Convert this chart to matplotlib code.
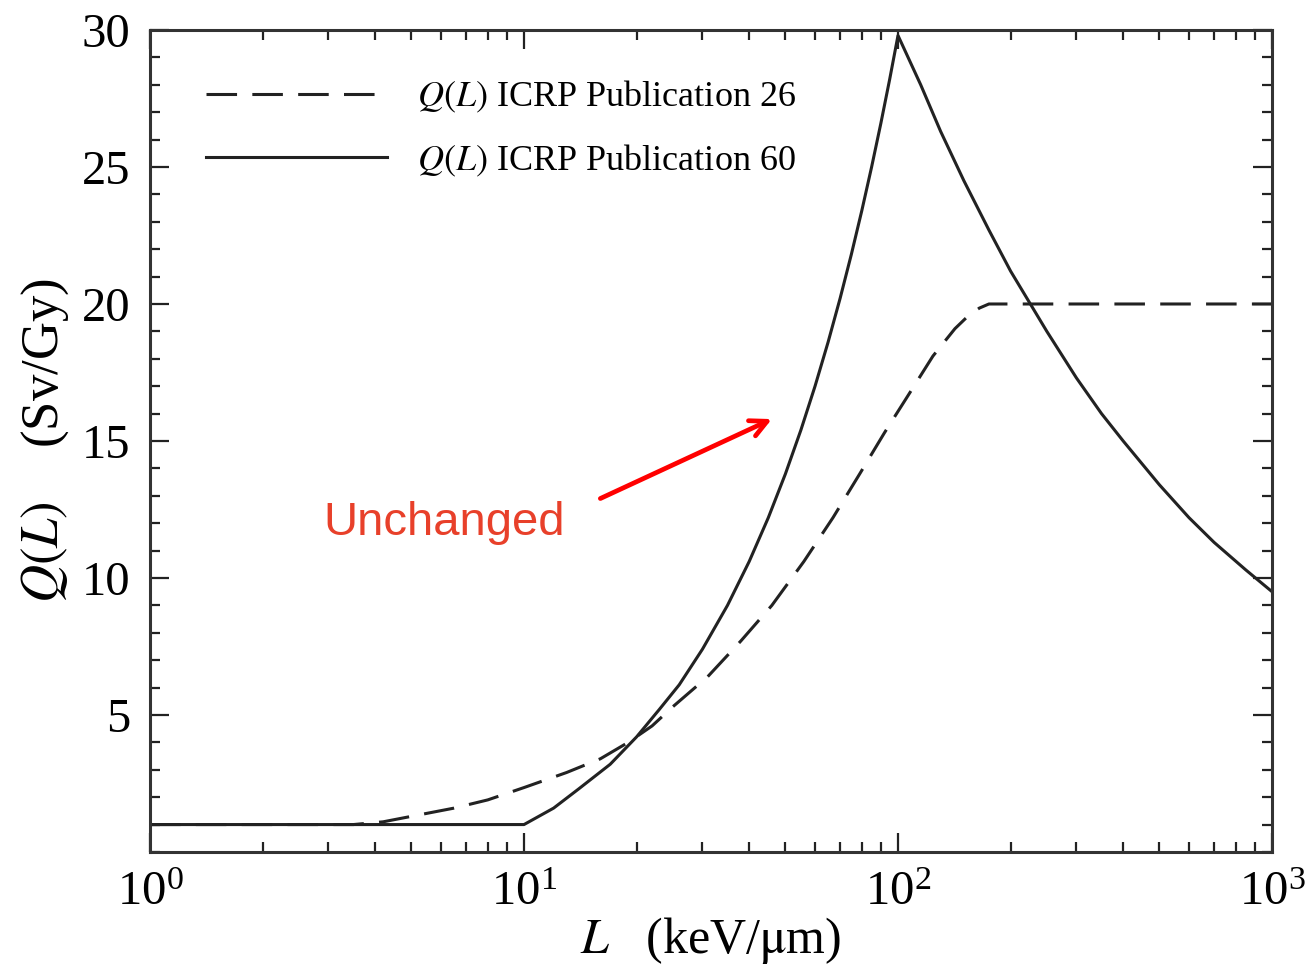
import matplotlib
matplotlib.use("Agg")
import matplotlib.pyplot as plt
from matplotlib.ticker import MultipleLocator, LogLocator, NullFormatter

plt.rcParams["font.family"] = ["Liberation Serif", "DejaVu Serif"]
plt.rcParams["mathtext.fontset"] = "stix"

# ICRP Publication 60 quality factor (solid)
L_icrp60 = [1, 10, 12, 14, 17, 20, 23, 26, 30, 35, 40, 45, 50, 55, 60, 65, 70,
            75, 80, 85, 90, 95, 100,
            115, 130, 150, 175, 200, 250, 300, 350, 400, 500, 600, 700, 850, 1000]
Q_icrp60 = [1.0, 1.0, 1.6, 2.3, 3.2, 4.2, 5.2, 6.1, 7.4, 9.0, 10.6, 12.2, 13.8, 15.4, 17.0, 18.6, 20.2,
            21.8, 23.4, 25.0, 26.6, 28.2, 29.8,
            28.0, 26.3, 24.5, 22.7, 21.2, 19.0, 17.3, 16.0, 15.0, 13.4, 12.2, 11.3, 10.3, 9.5]

# ICRP Publication 26 quality factor (dashed)
L_icrp26 = [1, 3.5, 4.2, 5, 6.5, 8, 10, 13, 16, 19, 22, 25, 31, 38, 46, 56, 67,
            79, 92, 108, 124, 142, 155, 165, 175, 1000]
Q_icrp26 = [1.0, 1.0, 1.1, 1.3, 1.6, 1.9, 2.35, 2.9, 3.4, 4.0, 4.6, 5.3, 6.4, 7.7, 9.0, 10.6, 12.2,
            13.8, 15.3, 16.8, 18.1, 19.1, 19.6, 19.85, 20.0, 20.0]

y_ticks = [5, 10, 15, 20, 25, 30]

fig = plt.figure(figsize=(13.1, 9.71), dpi=100)
ax = fig.add_axes([0.1145, 0.1226, 0.8565, 0.8465])

ax.plot(L_icrp26, Q_icrp26, color="#222222", lw=2.2, dashes=(10, 5),
        label=r"$Q(L)$ ICRP Publication 26")
ax.plot(L_icrp60, Q_icrp60, color="#222222", lw=2.2,
        label=r"$Q(L)$ ICRP Publication 60")

ax.set_xscale("log")
ax.set_xlim(1, 1000)
ax.set_ylim(0, 30)
ax.set_yticks(y_ticks)
ax.yaxis.set_minor_locator(MultipleLocator(1))
ax.xaxis.set_minor_locator(LogLocator(base=10, subs=range(2, 10)))
ax.xaxis.set_minor_formatter(NullFormatter())

for s in ax.spines.values():
    s.set_linewidth(2.2)
    s.set_color("#333333")
ax.tick_params(which="both", direction="in", top=True, right=True,
               width=1.6, color="#222222")
ax.tick_params(which="major", length=14, labelsize=35, pad=14)
ax.tick_params(which="minor", length=7)

ax.set_xlabel(r"$L$   (keV/$\mathrm{\mu}$m)", fontsize=36, labelpad=0)
ax.set_ylabel(r"$Q(L)$    (Sv/Gy)", fontsize=38, labelpad=8)

leg = ax.legend(loc="upper left", bbox_to_anchor=(0.05, 0.94), frameon=False,
                fontsize=26, handlelength=5.0, handletextpad=0.85,
                labelspacing=0.75, borderpad=0, borderaxespad=0)

ax.text(2.9, 12.0, "Unchanged", fontsize=34, color="#e8402a",
        family="Liberation Sans", ha="left", va="center")
ax.annotate("", xy=(46, 15.8), xytext=(16.0, 12.9),
            arrowprops=dict(arrowstyle="->", color="red", lw=3.4,
                            mutation_scale=30, shrinkA=0, shrinkB=0))

fig.savefig("out.png", dpi=100)
